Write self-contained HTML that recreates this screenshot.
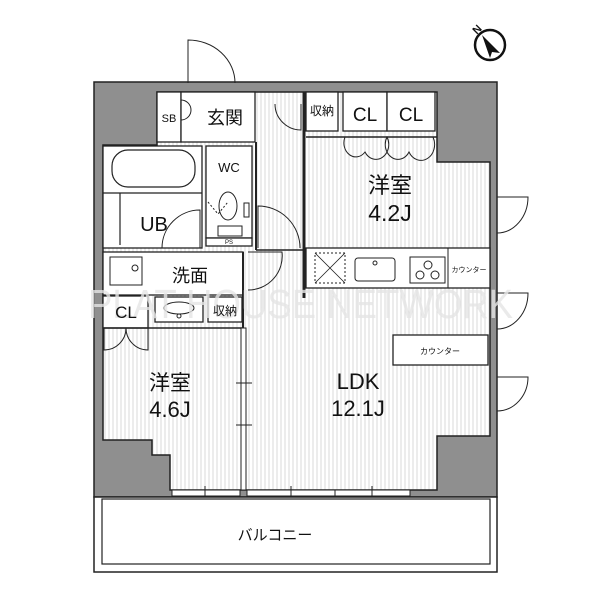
<!DOCTYPE html>
<html><head><meta charset="utf-8"><style>
html,body{margin:0;padding:0;background:#fff;}
svg{display:block;}
text{font-family:"Liberation Sans","Noto Sans CJK JP",sans-serif;fill:#111;}
</style></head><body>
<svg width="600" height="600" viewBox="0 0 600 600" xmlns="http://www.w3.org/2000/svg">
<defs>
<pattern id="st" width="4" height="10" patternUnits="userSpaceOnUse">
<rect width="4" height="10" fill="#fff"/>
<line x1="1" y1="0" x2="1" y2="10" stroke="#cfcfcf" stroke-width="0.8"/>
</pattern>
</defs>
<rect x="94" y="82" width="403" height="415" fill="#8f8f8f" stroke="#222" stroke-width="1.5"/>
<polygon points="157,92 437,92 437,162 490,162 490,436 437,436 437,490 170,490 170,455 152,455 152,440 103,440 103,145 157,145" fill="url(#st)" stroke="#222" stroke-width="1.5"/>
<g fill="#fff" stroke="#222" stroke-width="1.3">
<rect x="157" y="92" width="24" height="50"/>
<rect x="181" y="92" width="74" height="50"/>
<rect x="306" y="92" width="32" height="39"/>
<rect x="343" y="92" width="44" height="39"/>
<rect x="387" y="92" width="48" height="39"/>
<rect x="103" y="146" width="99" height="102"/>
<rect x="206" y="146" width="46" height="92"/>
<rect x="206" y="238" width="46" height="8"/>
<rect x="103" y="252" width="140" height="43"/>
<rect x="103" y="296" width="45" height="32"/>
<rect x="155" y="297" width="48" height="25"/>
<rect x="208" y="297" width="34" height="25"/>
<rect x="306" y="248" width="184" height="40"/>
<rect x="393" y="335" width="95" height="30"/>
</g>
<rect x="112" y="150" width="83" height="37" rx="16" fill="#fff" stroke="#222" stroke-width="1.2"/>
<line x1="103" y1="193" x2="202" y2="193" stroke="#222" stroke-width="1.2"/>
<line x1="120" y1="193" x2="120" y2="245" stroke="#222" stroke-width="1.2"/>
<path d="M162,248 A38,38 0 0 1 200,210 L200,248" fill="none" stroke="#222" stroke-width="1"/>
<rect x="218" y="226" width="24" height="10" fill="#fff" stroke="#222"/>
<ellipse cx="228" cy="206" rx="9" ry="14" fill="#fff" stroke="#222"/>
<rect x="244" y="203" width="5" height="14" fill="#fff" stroke="#222"/>
<path d="M208,202 L218,214 L228,202" fill="none" stroke="#222" stroke-dasharray="2,2"/>
<rect x="110" y="257" width="32" height="28" fill="#fff" stroke="#222"/>
<circle cx="135" cy="268" r="3" fill="none" stroke="#222"/>
<ellipse cx="179" cy="308" rx="15" ry="6" fill="none" stroke="#222"/>
<circle cx="179" cy="316" r="2" fill="none" stroke="#222"/>
<rect x="315" y="253" width="30" height="30" fill="none" stroke="#222" stroke-dasharray="2,2"/>
<path d="M315,253 L345,283 M345,253 L315,283" stroke="#222" stroke-width="0.8"/>
<rect x="355" y="258" width="40" height="23" rx="3" fill="none" stroke="#222"/>
<circle cx="375" cy="263" r="2" fill="none" stroke="#222"/>
<rect x="410" y="257" width="35" height="26" fill="none" stroke="#222"/>
<circle cx="428" cy="265" r="4" fill="none" stroke="#222"/>
<circle cx="420" cy="275" r="4" fill="none" stroke="#222"/>
<circle cx="435" cy="275" r="4" fill="none" stroke="#222"/>
<line x1="448" y1="248" x2="448" y2="288" stroke="#222"/>
<line x1="304" y1="92" x2="304" y2="298" stroke="#222" stroke-width="3"/>
<line x1="256" y1="142" x2="256" y2="250" stroke="#222" stroke-width="2"/>
<line x1="243" y1="252" x2="243" y2="328" stroke="#222" stroke-width="2"/>
<line x1="103" y1="328" x2="243" y2="328" stroke="#222" stroke-width="1.5"/>
<line x1="306" y1="137" x2="437" y2="137" stroke="#222" stroke-width="1.5"/>
<line x1="256" y1="250" x2="304" y2="250" stroke="#222" stroke-width="1.5"/>
<rect x="241" y="328" width="5" height="162" fill="#fff" stroke="#222"/>
<line x1="236" y1="383" x2="252" y2="383" stroke="#222"/>
<line x1="236" y1="425" x2="252" y2="425" stroke="#222"/>
<g fill="#fff" stroke="#222">
<rect x="172" y="490" width="68" height="6"/>
<rect x="247" y="490" width="88" height="6"/>
<rect x="335" y="490" width="75" height="6"/>
</g>
<g stroke="#222"><line x1="205" y1="486" x2="205" y2="500"/><line x1="291" y1="486" x2="291" y2="500"/><line x1="372" y1="486" x2="372" y2="500"/></g>
<g fill="none" stroke="#222" stroke-width="1">
<path d="M188,83 L188,40 A47,43 0 0 1 235,83"/>
<path d="M181,100 A10,10 0 0 1 191,110 A10,10 0 0 1 181,120"/>
<path d="M275,104 A26,26 0 0 0 301,130 L301,104"/>
<path d="M258,248 L258,206 A42,42 0 0 1 300,248"/>
<path d="M248,252 L282,252 A34,34 0 0 1 248,290"/>
<path d="M345,137 A12,14 0 0 0 365,152 A12,14 0 0 0 387,137 A12,14 0 0 0 409,152 A12,14 0 0 0 433,137"/>
<path d="M104,328 L104,350 A22,22 0 0 0 126,328 A22,22 0 0 0 148,350 L148,328"/>
<path d="M497,197 L528,197 A31,36 0 0 1 497,233"/>
<path d="M497,293 L528,293 A31,36 0 0 1 497,329"/>
<path d="M497,377 L528,377 A31,34 0 0 1 497,411"/>
</g>
<rect x="94" y="497" width="403" height="75" fill="#fff" stroke="#222" stroke-width="1.5"/>
<rect x="102" y="499" width="388" height="65" fill="none" stroke="#222" stroke-width="1.2"/>
<circle cx="490" cy="45" r="15" fill="#fff" stroke="#111" stroke-width="2.5"/>
<polygon points="482,35 500,53 492,52 490,58" fill="#111"/>
<text x="474" y="36" font-size="11" font-weight="bold" transform="rotate(-45 474 32)">N</text>
<text x="88" y="318" font-size="41" style="fill:#e6e6e6" opacity="0.8" textLength="425" lengthAdjust="spacingAndGlyphs">PLAT HOUSE NETWORK</text>
<text x="169" y="122" font-size="11" text-anchor="middle">SB</text>
<text x="225" y="124" font-size="18" text-anchor="middle">玄関</text>
<text x="322" y="115" font-size="12" text-anchor="middle">収納</text>
<text x="365" y="121" font-size="19" text-anchor="middle">CL</text>
<text x="411" y="121" font-size="19" text-anchor="middle">CL</text>
<text x="390" y="193" font-size="22" text-anchor="middle">洋室</text>
<text x="390" y="221" font-size="23" text-anchor="middle">4.2J</text>
<text x="229" y="172" font-size="13" text-anchor="middle">WC</text>
<text x="229" y="244" font-size="6" text-anchor="middle">PS</text>
<text x="154" y="231" font-size="20" text-anchor="middle">UB</text>
<text x="190" y="282" font-size="18" text-anchor="middle">洗面</text>
<text x="126" y="318" font-size="17" text-anchor="middle">CL</text>
<text x="225" y="315" font-size="12" text-anchor="middle">収納</text>
<text x="469" y="272" font-size="7" text-anchor="middle">カウンター</text>
<text x="440" y="354" font-size="8" text-anchor="middle">カウンター</text>
<text x="170" y="390" font-size="21" text-anchor="middle">洋室</text>
<text x="170" y="417" font-size="22" text-anchor="middle">4.6J</text>
<text x="358" y="389" font-size="22" text-anchor="middle">LDK</text>
<text x="358" y="416" font-size="22" text-anchor="middle">12.1J</text>
<text x="275" y="540" font-size="15" text-anchor="middle">バルコニー</text>
</svg>
</body></html>
